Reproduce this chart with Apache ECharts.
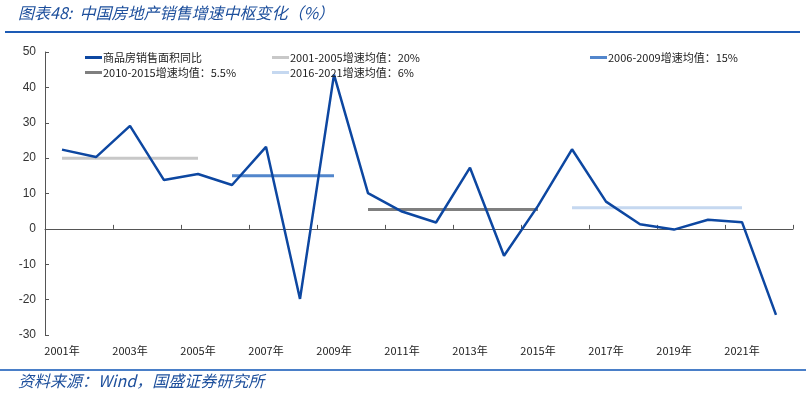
<!DOCTYPE html>
<html><head><meta charset="utf-8">
<script src="https://cdn.jsdelivr.net/npm/echarts@6/dist/echarts.min.js"></script>
<style>html,body{margin:0;padding:0;background:#fff}#c{width:811px;height:395px}</style>
</head><body><div id="c"></div>
<script>
const years = ['2001年','2002年','2003年','2004年','2005年','2006年','2007年','2008年','2009年','2010年','2011年','2012年','2013年','2014年','2015年','2016年','2017年','2018年','2019年','2020年','2021年','2022年'];
const salesYoY = [22.4, 20.3, 29.1, 13.8, 15.5, 12.4, 23.2, -19.8, 43.6, 10.1, 4.9, 1.8, 17.3, -7.6, 6.5, 22.5, 7.7, 1.3, -0.2, 2.6, 1.9, -24.3];
const avg0105 = [20, 20, 20, 20, 20, null, null, null, null, null, null, null, null, null, null, null, null, null, null, null, null, null];
const avg0609 = [null, null, null, null, null, 15, 15, 15, 15, null, null, null, null, null, null, null, null, null, null, null, null, null];
const avg1015 = [null, null, null, null, null, null, null, null, null, 5.5, 5.5, 5.5, 5.5, 5.5, 5.5, null, null, null, null, null, null, null];
const avg1621 = [null, null, null, null, null, null, null, null, null, null, null, null, null, null, null, 6, 6, 6, 6, 6, 6, null];
const seriesNames = ['商品房销售面积同比', '2001-2005增速均值：20%', '2006-2009增速均值：15%', '2010-2015增速均值：5.5%', '2016-2021增速均值：6%'];
const yTicks = {min: -30, max: 50, interval: 10};

const colors = ['#0d47a1', '#c8c8c8', '#5286cc', '#7f7f7f', '#c5d8f0'];
const chart = echarts.init(document.getElementById('c'));
function leg(name, left, top) {
  return {data: [name], left: left, top: top, icon: 'rect', itemWidth: 17, itemHeight: 3, itemGap: 0,
    padding: 0, textStyle: {fontSize: 11, color: '#222', fontFamily: 'Liberation Sans Narrow, Noto Sans CJK SC', padding: [0, 0, 0, -4]}};
}
function avgSeries(name, data, color) {
  return {name: name, type: 'line', data: data, symbol: 'none', lineStyle: {color: color, width: 3}, itemStyle: {color: color}, z: 1, connectNulls: false};
}
chart.setOption({
  animation: false,
  grid: {left: 45, right: 18, top: 52, bottom: 60},
  legend: [
    leg(seriesNames[0], 85, 52),
    leg(seriesNames[1], 272, 52),
    leg(seriesNames[2], 590, 52),
    leg(seriesNames[3], 85, 67),
    leg(seriesNames[4], 272, 67)
  ],
  xAxis: {
    type: 'category', data: years, boundaryGap: true,
    axisLine: {onZero: true, lineStyle: {color: '#555', width: 1}},
    axisTick: {show: true, interval: 1, length: 4, inside: true, lineStyle: {color: '#555'}},
    axisLabel: {interval: 1, fontSize: 11, color: '#222', fontFamily: 'Liberation Sans Narrow, Noto Sans CJK SC', margin: 10},
    position: 'bottom'
  },
  yAxis: {
    type: 'value', min: yTicks.min, max: yTicks.max, interval: yTicks.interval,
    splitLine: {show: false},
    axisLine: {show: true, lineStyle: {color: '#555'}},
    axisTick: {show: true, inside: true, length: 4, lineStyle: {color: '#555'}},
    axisLabel: {fontSize: 12, color: '#333', fontFamily: 'Liberation Sans', margin: 9}
  },
  series: [
    {name: seriesNames[0], type: 'line', data: salesYoY, symbol: 'none', lineStyle: {color: colors[0], width: 2.5}, itemStyle: {color: colors[0]}, z: 3},
    avgSeries(seriesNames[1], avg0105, colors[1]),
    avgSeries(seriesNames[2], avg0609, colors[2]),
    avgSeries(seriesNames[3], avg1015, colors[3]),
    avgSeries(seriesNames[4], avg1621, colors[4])
  ],
  graphic: [
    {type: 'text', left: 18, top: 5, style: {text: '图表48:  中国房地产销售增速中枢变化（%）', font: 'italic 16px "Noto Sans CJK SC"', fill: '#1d4f9c'}},
    {type: 'line', shape: {x1: 5, y1: 32, x2: 800, y2: 32}, style: {stroke: '#1d5bb5', lineWidth: 2}},
    {type: 'line', shape: {x1: 0, y1: 370, x2: 806, y2: 370}, style: {stroke: '#4a7fc8', lineWidth: 2}},
    {type: 'text', left: 18, top: 373, style: {text: '资料来源：Wind，国盛证券研究所', font: 'italic 16px "Noto Sans CJK SC"', fill: '#1d4f9c'}}
  ]
});
</script></body></html>
